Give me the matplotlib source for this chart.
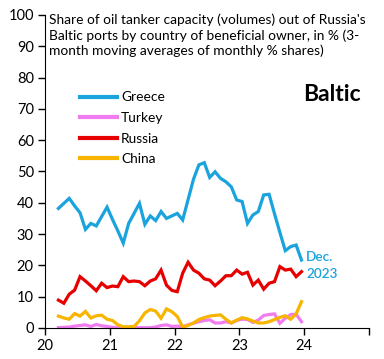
import numpy as np
import matplotlib
matplotlib.use("Agg")
import matplotlib.pyplot as plt

plt.rcParams['font.family'] = ['Lato', 'DejaVu Sans']

# monthly data, Mar 2020 - Dec 2023 (3-month moving averages, %)
start_year = 2020
start_month = 3
greece = [38.2, 39.8, 41.4, 39.0, 36.8, 31.5, 33.4, 32.6, 35.6, 38.6,
          34.7, 31.0, 27.1, 33.4, 36.6, 39.8, 33.1, 35.8, 34.3, 37.2,
          35.0, 35.8, 36.6, 34.5, 41.0, 47.5, 52.1, 52.8, 48.1, 49.9,
          47.8, 46.7, 45.1, 40.9, 40.4, 33.4, 36.1, 37.2, 42.5, 42.7,
          36.5, 30.5, 24.7, 26.0, 26.5, 21.7]
turkey = [0.1, 0.2, 0.3, 0.6, 0.8, 1.0, 0.5, 1.1, 0.7, 0.5,
          0.2, 0.1, 0.1, 0.1, 0.1, 0.1, 0.1, 0.1, 0.3, 0.8,
          1.0, 0.5, 0.6, 0.4, 1.0, 1.5, 2.0, 2.4, 2.6, 1.6,
          1.6, 2.0, 1.6, 2.4, 2.8, 2.7, 1.8, 2.5, 4.0, 4.3,
          4.5, 1.5, 3.1, 4.3, 4.4, 2.0]
russia = [8.9, 7.9, 10.8, 12.1, 16.4, 15.0, 13.5, 11.9, 14.3, 12.9,
          13.4, 13.2, 16.4, 14.8, 15.0, 14.8, 13.5, 15.0, 15.7, 18.5,
          13.7, 12.0, 11.6, 17.5, 21.0, 18.5, 17.5, 15.7, 15.3, 13.5,
          15.0, 16.7, 16.7, 18.5, 17.2, 17.8, 13.7, 15.3, 12.4, 14.3,
          14.8, 19.6, 18.5, 18.8, 16.4, 18.0]
china = [3.8, 3.2, 2.8, 4.6, 3.8, 5.3, 3.2, 3.9, 4.1, 2.8,
         2.4, 1.0, 0.4, 0.4, 0.5, 2.3, 4.8, 5.9, 5.4, 3.1,
         6.1, 5.2, 3.7, 0.3, 0.8, 1.6, 2.7, 3.3, 3.8, 4.0,
         4.2, 2.8, 1.6, 2.5, 3.3, 2.9, 2.2, 1.6, 1.6, 2.0,
         2.7, 3.4, 3.9, 2.8, 4.5, 8.4]

series = [("Greece", greece, "#1AA3DD"),
          ("Turkey", turkey, "#F07CF0"),
          ("Russia", russia, "#E60000"),
          ("China", china, "#F7B500")]

# x in years since 2000, mid-month
x = [(start_year - 2000) + (start_month - 1 + i + 0.5) / 12 for i in range(len(greece))]

fig = plt.figure(figsize=(3.84, 3.59), dpi=100)
ax = fig.add_axes([0.117, 0.0864, 0.844, 0.872])

for name, vals, col in series:
    ax.plot(x, vals, color=col, lw=2.3, label=name, solid_joinstyle="miter")

ax.set_xlim(20, 25)
ax.set_ylim(0, 100)
ax.set_xticks([20, 21, 22, 23, 24, 25])
ax.set_xticklabels(["20", "21", "22", "23", "24", ""])
ax.set_yticks(range(0, 101, 10))
ax.tick_params(axis="both", labelsize=10.5, length=5, width=1, direction="out", pad=3)
ax.spines["top"].set_visible(False)
ax.spines["right"].set_visible(False)

ax.text(0.012, 1.005, "Share of oil tanker capacity (volumes) out of Russia's\n"
        "Baltic ports by country of beneficial owner, in % (3-\n"
        "month moving averages of monthly % shares)",
        transform=ax.transAxes, ha="left", va="top", fontsize=9.9, linespacing=1.3)
ax.text(0.975, 0.745, "Baltic", transform=ax.transAxes, ha="right", va="center",
        fontsize=16.5, fontweight="bold")
ax.text(24.03, 20, "Dec.\n2023", color="#1AA3DD", fontsize=9.8, fontweight="semibold",
        ha="left", va="center", linespacing=1.5)

leg = ax.legend(loc="upper left", bbox_to_anchor=(0.07, 0.795), frameon=False,
                fontsize=9.9, handlelength=2.7, handletextpad=0.3, labelspacing=0.62)
for line in leg.get_lines():
    line.set_linewidth(3)

fig.savefig("out.png", dpi=100)
